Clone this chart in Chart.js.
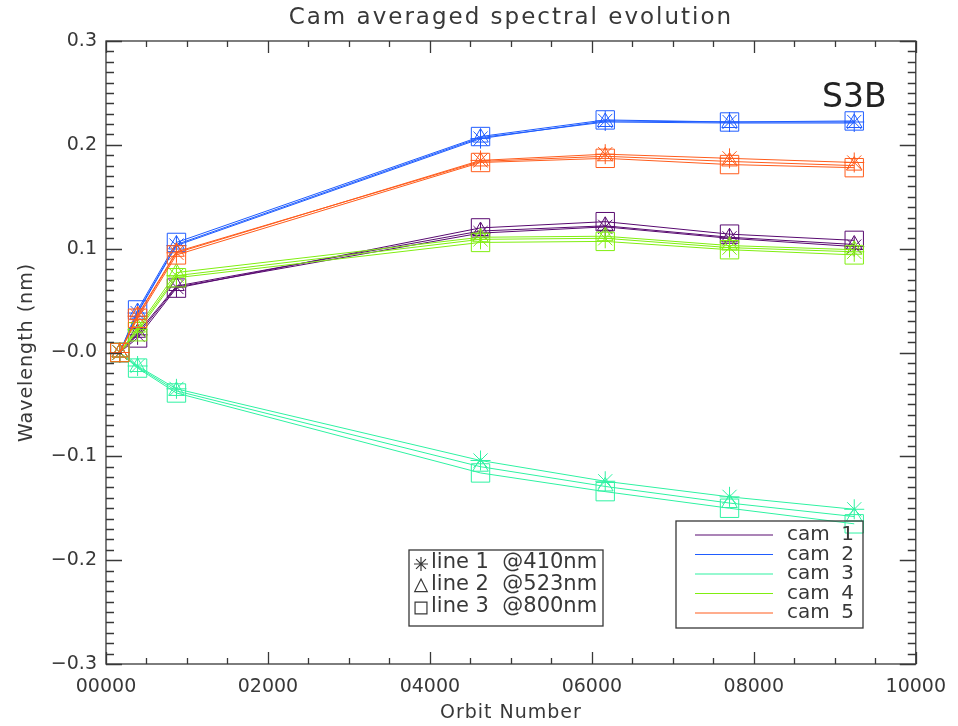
<!DOCTYPE html>
<html>
<head>
<meta charset="utf-8">
<title>Cam averaged spectral evolution</title>
<script src="https://cdn.jsdelivr.net/npm/chart.js@4/dist/chart.umd.min.js"></script>
<style>
  html, body { margin: 0; padding: 0; background: #fff; }
  canvas { display: block; }
</style>
</head>
<body>
<canvas id="plot" width="958" height="726"></canvas>
<script>
// orbit numbers of the calibration passes
var orbits = [170, 390, 870, 4625, 6165, 7700, 9240];

// spectral shift (nm) per camera, one row per line: 410nm, 523nm, 800nm
var shiftCam1 = [
	[0, 0.017, 0.063, 0.115, 0.121, 0.110, 0.102],
	[0, 0.019, 0.064, 0.117, 0.122, 0.111, 0.104],
	[0, 0.014, 0.062, 0.120, 0.126, 0.114, 0.108]
];
var shiftCam2 = [
	[0, 0.038, 0.103, 0.206, 0.223, 0.222, 0.222],
	[0, 0.039, 0.104, 0.207, 0.222, 0.221, 0.221],
	[0, 0.041, 0.106, 0.208, 0.224, 0.222, 0.223]
];
var shiftCam3 = [
	[0, -0.013, -0.035, -0.104, -0.124, -0.139, -0.151],
	[0, -0.014, -0.037, -0.110, -0.129, -0.145, -0.158],
	[0, -0.015, -0.039, -0.116, -0.134, -0.150, -0.165]
];
var shiftCam4 = [
	[0, 0.022, 0.074, 0.109, 0.110, 0.101, 0.097],
	[0, 0.024, 0.077, 0.111, 0.112, 0.103, 0.099],
	[0, 0.020, 0.072, 0.106, 0.107, 0.099, 0.094]
];
var shiftCam5 = [
	[0, 0.035, 0.096, 0.185, 0.191, 0.187, 0.183],
	[0, 0.036, 0.097, 0.184, 0.189, 0.184, 0.180],
	[0, 0.033, 0.094, 0.183, 0.187, 0.181, 0.178]
];

var camShifts = [shiftCam1, shiftCam2, shiftCam3, shiftCam4, shiftCam5];
var camNumbers = ['1', '2', '3', '4', '5'];
var camColors = ['#580a70', '#1f5cff', '#2ef2a2', '#80ee10', '#ff5c1c'];
var lineNames = ['line 1  @410nm', 'line 2  @523nm', 'line 3  @800nm'];
var lineMarkers = ['star', 'triangle', 'rect'];
var markerSizes = [10, 9, 13];

var chartTitle = 'Cam averaged spectral evolution';
var xTitle = 'Orbit Number';
var yTitle = 'Wavelength (nm)';
var satName = 'S3B';

var xMin = 0, xMax = 10000, xMajor = 2000, xMinor = 500;
var yMin = -0.3, yMax = 0.3, yMajor = 0.1, yMinor = 0.01;

var ink = '#383838';
var fontName = '"DejaVu Sans", sans-serif';

var datasets = [];
for (var c = 0; c < camShifts.length; c++) {
	for (var l = 0; l < 3; l++) {
		var pts = orbits.map(function(o, i) {
			return { x: o, y: camShifts[c][l][i] };
		});
		datasets.push({
			label: 'cam ' + camNumbers[c] + ' ' + lineNames[l],
			data: pts,
			borderColor: camColors[c],
			borderWidth: 1,
			pointStyle: lineMarkers[l],
			pointRadius: markerSizes[l],
			pointHoverRadius: markerSizes[l],
			pointBorderWidth: 1,
			pointBorderColor: camColors[c],
			pointBackgroundColor: 'rgba(0,0,0,0)',
			tension: 0,
			order: (camShifts.length - c) * 3 - l
		});
	}
}

// box round the plot with inward ticks on all four sides
var frameTicks = {
	id: 'frameTicks',
	afterDatasetsDraw: function(chart) {
		var ctx = chart.ctx, a = chart.chartArea;
		var xs = chart.scales.x, ys = chart.scales.y;
		ctx.save();
		ctx.strokeStyle = ink;
		ctx.lineWidth = 1.3;
		ctx.strokeRect(a.left, a.top, a.right - a.left, a.bottom - a.top);
		ctx.beginPath();
		var nx = Math.round((xMax - xMin) / xMinor);
		for (var i = 0; i <= nx; i++) {
			var v = xMin + i * xMinor;
			var px = Math.round(xs.getPixelForValue(v)) + 0.5;
			var len = (v % xMajor === 0) ? 12 : 6;
			ctx.moveTo(px, a.bottom); ctx.lineTo(px, a.bottom - len);
			ctx.moveTo(px, a.top); ctx.lineTo(px, a.top + len);
		}
		var ny = Math.round((yMax - yMin) / yMinor);
		for (var j = 0; j <= ny; j++) {
			var py = Math.round(ys.getPixelForValue(yMin + j * yMinor)) + 0.5;
			var ylen = (j % 10 === 0) ? 16 : 8;
			ctx.moveTo(a.left, py); ctx.lineTo(a.left + ylen, py);
			ctx.moveTo(a.right, py); ctx.lineTo(a.right - ylen, py);
		}
		ctx.stroke();
		ctx.restore();
	}
};

function drawMarker(ctx, style, x, y, r) {
	ctx.beginPath();
	if (style === 'star') {
		for (var k = 0; k < 4; k++) {
			var ang = k * Math.PI / 4;
			ctx.moveTo(x - Math.cos(ang) * r, y - Math.sin(ang) * r);
			ctx.lineTo(x + Math.cos(ang) * r, y + Math.sin(ang) * r);
		}
	} else if (style === 'triangle') {
		ctx.moveTo(x, y - r);
		ctx.lineTo(x + r * 0.9, y + r * 0.8);
		ctx.lineTo(x - r * 0.9, y + r * 0.8);
		ctx.closePath();
	} else {
		ctx.rect(x - r * 0.85, y - r * 0.85, 1.7 * r, 1.7 * r);
	}
	ctx.stroke();
}

// titles, satellite tag and the two legend boxes
var decorations = {
	id: 'decorations',
	afterDraw: function(chart) {
		var ctx = chart.ctx, a = chart.chartArea;
		var midX = (a.left + a.right) / 2, midY = (a.top + a.bottom) / 2;
		ctx.save();
		ctx.fillStyle = ink;
		ctx.textAlign = 'center';
		ctx.textBaseline = 'middle';

		ctx.font = '23px ' + fontName;
		ctx.letterSpacing = '2px';
		ctx.fillText(chartTitle, midX, 18);

		ctx.font = '19px ' + fontName;
		ctx.letterSpacing = '1px';
		ctx.fillText(xTitle, midX, 713);
		ctx.save();
		ctx.translate(27, midY);
		ctx.rotate(-Math.PI / 2);
		ctx.fillText(yTitle, 0, 0);
		ctx.restore();

		ctx.letterSpacing = '0px';
		ctx.textAlign = 'left';
		ctx.textBaseline = 'alphabetic';
		ctx.font = '33px ' + fontName;
		ctx.fillStyle = '#222';
		ctx.fillText(satName, 822, 107);

		// marker legend
		ctx.strokeStyle = ink;
		ctx.lineWidth = 1.3;
		ctx.strokeRect(409, 550, 194, 76);
		ctx.fillStyle = ink;
		ctx.textBaseline = 'middle';
		ctx.font = '21px ' + fontName;
		for (var l = 0; l < lineNames.length; l++) {
			var ry = 563 + l * 22;
			ctx.lineWidth = 1.2;
			drawMarker(ctx, lineMarkers[l], 421, ry + 1, 7);
			ctx.fillText(lineNames[l], 431, ry);
		}

		// camera legend
		ctx.lineWidth = 1.3;
		ctx.strokeRect(676, 521, 187, 107);
		ctx.font = '20px ' + fontName;
		for (var c = 0; c < camNumbers.length; c++) {
			var cy = 535 + c * 19.5;
			ctx.strokeStyle = camColors[c];
			ctx.lineWidth = 1.2;
			ctx.beginPath();
			ctx.moveTo(695, cy); ctx.lineTo(773, cy);
			ctx.stroke();
			ctx.textAlign = 'left';
			ctx.fillText('cam', 787, cy);
			ctx.textAlign = 'right';
			ctx.fillText(camNumbers[c], 854, cy);
		}
		ctx.restore();
	}
};

new Chart(document.getElementById('plot'), {
	type: 'line',
	data: { datasets: datasets },
	options: {
		responsive: false,
		devicePixelRatio: 1,
		animation: false,
		events: [],
		layout: { padding: { top: 41, right: 36, left: 0, bottom: 0 } },
		plugins: {
			legend: { display: false },
			title: { display: false },
			tooltip: { enabled: false }
		},
		scales: {
			x: {
				type: 'linear',
				min: xMin,
				max: xMax,
				grid: { display: false, drawTicks: false },
				border: { display: false },
				ticks: {
					stepSize: xMajor,
					padding: 12,
					maxRotation: 0,
					color: ink,
					font: { family: fontName, size: 19 },
					callback: function(v) { return String(v).padStart(5, '0'); }
				},
				afterFit: function(s) { s.height = 62; }
			},
			y: {
				type: 'linear',
				min: yMin,
				max: yMax,
				grid: { display: false, drawTicks: false },
				border: { display: false },
				ticks: {
					stepSize: yMajor,
					padding: 9,
					color: ink,
					font: { family: fontName, size: 19 },
					callback: function(v) {
						var s = Math.abs(v).toFixed(1);
						return (v < 0 || Math.abs(v) < 1e-9) ? '\u2212' + s : s;
					}
				},
				afterFit: function(s) { s.width = 106; }
			}
		}
	},
	plugins: [frameTicks, decorations]
});
</script>
</body>
</html>
